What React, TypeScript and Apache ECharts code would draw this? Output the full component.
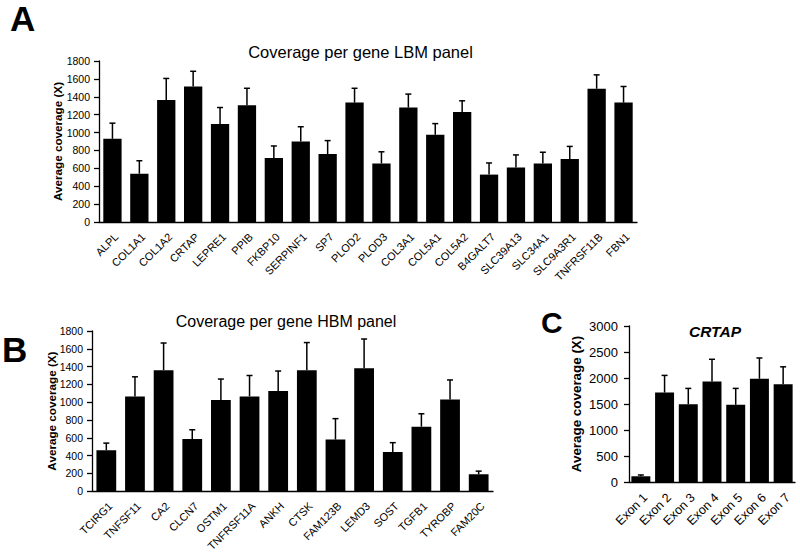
import React, { useEffect, useRef } from "react";
import * as echarts from "echarts";

const genesA = ["ALPL", "COL1A1", "COL1A2", "CRTAP", "LEPRE1", "PPIB", "FKBP10", "SERPINF1", "SP7", "PLOD2", "PLOD3", "COL3A1", "COL5A1", "COL5A2", "B4GALT7", "SLC39A13", "SLC34A1", "SLC9A3R1", "TNFRSF11B", "FBN1"];
const meanA = [930, 540, 1365, 1515, 1095, 1305, 715, 900, 760, 1335, 655, 1280, 975, 1230, 530, 610, 655, 705, 1490, 1335];
const sdA = [175, 145, 240, 170, 185, 190, 135, 165, 150, 160, 130, 150, 125, 125, 130, 140, 125, 140, 155, 180];

const genesB = ["TCIRG1", "TNFSF11", "CA2", "CLCN7", "OSTM1", "TNFRSF11A", "ANKH", "CTSK", "FAM123B", "LEMD3", "SOST", "TGFB1", "TYROBP", "FAM20C"];
const meanB = [460, 1065, 1360, 585, 1025, 1065, 1125, 1360, 580, 1380, 440, 725, 1030, 190];
const sdB = [80, 220, 305, 105, 235, 235, 225, 310, 235, 330, 105, 145, 220, 35];

const exonsC = ["Exon 1", "Exon 2", "Exon 3", "Exon 4", "Exon 5", "Exon 6", "Exon 7"];
const meanC = [110, 1720, 1495, 1935, 1485, 1985, 1880];
const sdC = [25, 330, 305, 425, 315, 400, 335];

const FONT = '"Liberation Sans", Arial, Helvetica, sans-serif';

function errorSeries(axisIdx: number, means: number[], sds: number[], hw: number) {
  return {
    type: "custom",
    xAxisIndex: axisIdx,
    yAxisIndex: axisIdx,
    z: 3,
    encode: { x: 0, y: 1 },
    data: means.map((m, i) => [i, m, sds[i]]),
    renderItem: (params: any, api: any) => {
      const idx = api.value(0);
      const m = api.value(1);
      const s = api.value(2);
      const base = api.coord([idx, m]);
      const top = api.coord([idx, m + s]);
      return {
        type: "group",
        children: [
          { type: "line", shape: { x1: base[0], y1: base[1], x2: top[0], y2: top[1] }, style: { stroke: "#000", lineWidth: 1.5 } },
          { type: "line", shape: { x1: top[0] - hw, y1: top[1], x2: top[0] + hw, y2: top[1] }, style: { stroke: "#000", lineWidth: 1.5 } },
        ],
      };
    },
  };
}

function xAxis(idx: number, data: string[], fontSize: number, margin: number) {
  return {
    type: "category",
    gridIndex: idx,
    data,
    axisLine: { lineStyle: { color: "#000", width: 1.3 } },
    axisTick: { length: 5, lineStyle: { color: "#000", width: 1.3 } },
    axisLabel: { interval: 0, rotate: 45, fontSize, fontFamily: FONT, color: "#000", margin, align: "right", verticalAlign: "top" },
  };
}

function yAxis(idx: number, max: number, interval: number, labelSize: number, nameSize: number, nameGap: number, margin: number) {
  return {
    type: "value",
    gridIndex: idx,
    min: 0,
    max,
    interval,
    name: "Average coverage (X)",
    nameLocation: "middle",
    nameGap,
    nameMoveOverlap: false,
    nameTextStyle: { fontSize: nameSize, fontWeight: "bold", fontFamily: FONT, color: "#000" },
    splitLine: { show: false },
    axisLine: { show: true, lineStyle: { color: "#000", width: 1.3 } },
    axisTick: { show: true, length: 5, lineStyle: { color: "#000", width: 1.3 } },
    axisLabel: { fontSize: labelSize, fontFamily: FONT, color: "#000", margin, formatter: (v: number) => String(v) },
  };
}

function label(text: string, x: number, y: number, size: number, align: string, extra: any = {}) {
  return {
    type: "text",
    x,
    y,
    style: {
      text,
      fill: "#000",
      fontSize: size,
      fontFamily: FONT,
      fontWeight: extra.fontWeight || "normal",
      fontStyle: extra.fontStyle || "normal",
      align,
      verticalAlign: "middle",
      textAlign: align,
      textVerticalAlign: "middle",
    },
  };
}

export default function App() {
  const ref = useRef<HTMLDivElement>(null);
  useEffect(() => {
    if (!ref.current) return;
    const chart = echarts.init(ref.current, undefined, { renderer: "svg" });
    chart.setOption({
      animation: false,
      backgroundColor: "#fff",
      grid: [
        { left: 99, top: 61, width: 538, height: 161 },
        { left: 92, top: 331, width: 401, height: 163 },
        { left: 629, top: 326, width: 166, height: 156 },
      ],
      xAxis: [xAxis(0, genesA, 11, 9), xAxis(1, genesB, 11, 9), xAxis(2, exonsC, 12.5, 9)],
      yAxis: [
        yAxis(0, 1800, 200, 10.5, 11.7, 36, 9),
        yAxis(1, 1800, 200, 10.5, 11.7, 35, 9),
        yAxis(2, 3000, 500, 13, 13.4, 46, 11),
      ],
      series: [
        { type: "bar", xAxisIndex: 0, yAxisIndex: 0, data: meanA, barCategoryGap: "32%", itemStyle: { color: "#000" } },
        { type: "bar", xAxisIndex: 1, yAxisIndex: 1, data: meanB, barCategoryGap: "31%", itemStyle: { color: "#000" } },
        { type: "bar", xAxisIndex: 2, yAxisIndex: 2, data: meanC, barCategoryGap: "20%", itemStyle: { color: "#000" } },
        errorSeries(0, meanA, sdA, 3),
        errorSeries(1, meanB, sdB, 3),
        errorSeries(2, meanC, sdC, 3),
      ],
      graphic: [
        label("A", 10, 18, 35, "left", { fontWeight: "bold" }),
        label("B", 2, 349, 35, "left", { fontWeight: "bold" }),
        label("C", 541, 322.5, 30, "left", { fontWeight: "bold" }),
        label("Coverage per gene LBM panel", 360.5, 52, 16.5, "center"),
        label("Coverage per gene HBM panel", 286, 321.7, 16, "center"),
        label("CRTAP", 715, 331.7, 15.5, "center", { fontWeight: "bold", fontStyle: "italic" }),
      ],
    });
    return () => chart.dispose();
  }, []);
  return <div ref={ref} style={{ position: "fixed", left: 0, top: 0, width: 800, height: 554 }} />;
}
